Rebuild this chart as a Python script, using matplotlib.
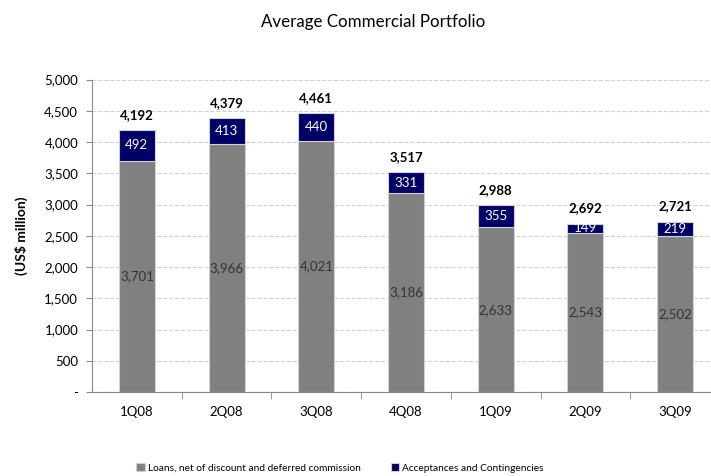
import matplotlib.pyplot as plt
import numpy as np

# --- Data ---
quarters = ['1Q08', '2Q08', '3Q08', '4Q08', '1Q09', '2Q09', '3Q09']
loans = [3701, 3966, 4021, 3186, 2633, 2543, 2502]
acceptances = [492, 413, 440, 331, 355, 149, 219]
totals = [4192, 4379, 4461, 3517, 2988, 2692, 2721]

GRAY = '#808080'
NAVY = '#000066'

plt.rcParams['font.family'] = ['Lato', 'DejaVu Sans']

fig = plt.figure(figsize=(7.11, 4.76), dpi=100)
ax = fig.add_axes([92 / 711, 1 - 392 / 476, (711 - 92) / 711, (392 - 79.5) / 476])

x = np.arange(len(quarters))
w = 0.4
ax.bar(x, loans, w, color=GRAY, edgecolor='#d0d0d8', linewidth=0.8, zorder=3,
       label='Loans, net of discount and deferred commission')
ax.bar(x, acceptances, w, bottom=loans, color=NAVY, edgecolor='#d0d0d8', linewidth=0.8,
       zorder=3, label='Acceptances and Contingencies')

for i in range(len(x)):
    ax.text(x[i], loans[i] / 2, f'{loans[i]:,}', ha='center', va='center',
            fontsize=9.5, color='#333333', zorder=4)
    ax.text(x[i], loans[i] + acceptances[i] / 2, f'{acceptances[i]:,}', ha='center',
            va='center', fontsize=9.5, color='white', zorder=4)
    ax.text(x[i], totals[i] + 150, f'{totals[i]:,}', ha='center', va='bottom',
            fontsize=9.5, fontweight='bold', color='black', zorder=4)

ax.set_ylim(0, 5000)
ax.set_xlim(-0.5, 6.4)
yt = np.arange(0, 5001, 500)
ax.set_yticks(yt)
ax.set_yticklabels(['-'] + [f'{v:,}' for v in yt[1:]])
ax.set_xticks(x)
ax.set_xticklabels(quarters)
ax.tick_params(axis='x', length=0, pad=10, labelsize=9.5)
ax.tick_params(axis='y', length=4, color='#888888', labelsize=9.5, pad=6)
ax.set_xticks(np.arange(0.5, 6, 1), minor=True)
ax.tick_params(axis='x', which='minor', length=5, color='#888888')

ax.grid(axis='y', linestyle='--', color='#d0d0d0', linewidth=0.8, zorder=0)
for s in ['top', 'right']:
    ax.spines[s].set_visible(False)
for s in ['left', 'bottom']:
    ax.spines[s].set_color('#888888')

ax.set_ylabel('(US$ million)', fontsize=10, fontweight='bold', labelpad=12)
fig.text(373 / 711, 1 - 22 / 476, 'Average Commercial Portfolio', ha='center', va='center',
         fontsize=12.2)

fig.legend(loc='center', bbox_to_anchor=(340 / 711, 1 - 468 / 476), ncol=2, frameon=False,
           fontsize=7.3, handlelength=0.8, handleheight=0.8, handletextpad=0.3,
           columnspacing=3.0)

fig.savefig('out.png', dpi=100)
